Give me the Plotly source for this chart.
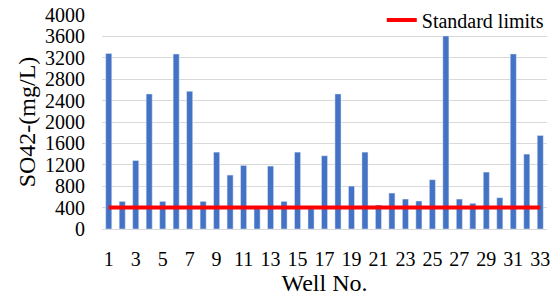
import plotly.graph_objects as go

wells = list(range(1, 34))
so4 = [3280, 516, 1280, 2525, 516, 3270, 2575, 516, 1437, 1008, 1188,
       380, 1176, 516, 1437, 380, 1369, 2525, 802, 1437, 448, 672,
       560, 523, 921, 3608, 560, 479, 1064, 585, 3272, 1400, 1748]
standard = [400] * 33
x_ticks = [str(i) for i in range(1, 34, 2)]

font = "Liberation Serif, Times New Roman, serif"

fig = go.Figure()
fig.add_trace(go.Bar(x=wells, y=so4, marker_color="#4472C4", showlegend=False,
                     name="SO42-"))
fig.add_trace(go.Scatter(x=wells, y=standard, mode="lines", name="Standard limits",
                         line=dict(color="#FF0000", width=4)))

fig.update_layout(
    width=553, height=296,
    margin=dict(l=102, r=6, t=15, b=67, autoexpand=False),
    paper_bgcolor="white", plot_bgcolor="white",
    bargap=0.55,
    font=dict(family=font, size=20, color="black"),
    legend=dict(x=1.004, xanchor="right", y=0.977, yanchor="middle",
                bgcolor="rgba(0,0,0,0)", font=dict(size=20),
                itemwidth=30),
    xaxis=dict(range=[0.5, 33.5], tickmode="array",
               tickvals=list(range(1, 34, 2)), ticktext=x_ticks,
               showgrid=False, showline=True, linecolor="#d9d9d9",
               ticks="", ticklabelstandoff=12, automargin=False,
               title=dict(text="Well No.", standoff=4)),
    yaxis=dict(range=[0, 4000], dtick=400, showgrid=True, gridcolor="#d9d9d9",
               zeroline=False, ticks="", ticklabelstandoff=16, automargin=False,
               title=dict(text="SO42-(mg/L)", standoff=2)),
)

fig.write_html("out.html", config={"displayModeBar": False},
               post_script="document.body.style.margin='0';")
